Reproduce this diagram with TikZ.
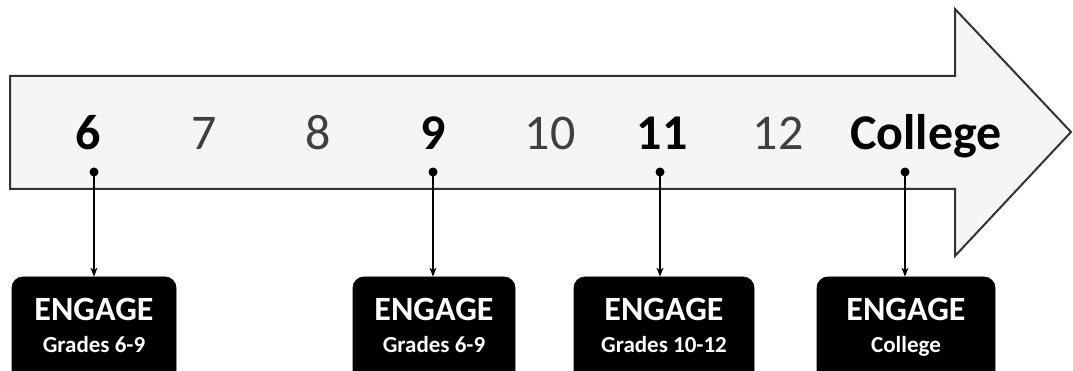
\documentclass[tikz,border=0pt]{standalone}
\usepackage{fontspec}
\setmainfont{Carlito}
\usetikzlibrary{arrows.meta}
\tikzset{
  bignum/.style={anchor=base, font=\fontsize{50}{50}\selectfont\bfseries, text=black, inner sep=0pt},
  lightnum/.style={anchor=base, font=\fontsize{50}{50}\selectfont, text=black!75, inner sep=0pt},
  dotmark/.style={circle, fill=black, inner sep=0pt, minimum size=9pt},
  engbox/.style={draw=black, fill=black, rounded corners=11pt, inner sep=0pt, line width=0.8pt},
  engtitle/.style={anchor=base, font=\fontsize{34}{34}\selectfont\bfseries, text=white, inner sep=0pt},
  engsub/.style={anchor=base, font=\fontsize{23}{23}\selectfont\bfseries, text=white, inner sep=0pt},
  link/.style={draw=black, line width=1.1pt, -{Stealth[length=9pt,width=7pt]}},
  bigarrow/.style={draw=black!80, line width=2pt, fill=black!4, line join=miter}
}
\begin{document}
\begin{tikzpicture}[x=1pt,y=-1pt]
\useasboundingbox (0,0) rectangle (1073,371);
\clip (0,0) rectangle (1073,371);
\fill[white] (0,0) rectangle (1073,371);
% big arrow
\draw[bigarrow] (10,76) -- (955,76) -- (955,9) -- (1071,132) -- (955,256) -- (955,189) -- (10,189) -- cycle;
% labels
\node[bignum]   (n6)  at (88,150)  {6};
\node[lightnum] (n7)  at (204,150) {7};
\node[lightnum] (n8)  at (318,150) {8};
\node[bignum]   (n9)  at (433,150) {9};
\node[lightnum] (n10) at (550,150) {10};
\node[bignum]   (n11) at (662,150) {11};
\node[lightnum] (n12) at (778,150) {12};
\node[bignum]   (ncol) at (926,150) {College};
% dots
\node[dotmark] (d6)  at (94,172)  {};
\node[dotmark] (d9)  at (433,172) {};
\node[dotmark] (d11) at (660,172) {};
\node[dotmark] (dcol) at (905,172) {};
% boxes
\node[engbox, minimum width=164pt, minimum height=110pt] (b6)  at (94,332)  {};
\node[engbox, minimum width=162pt, minimum height=110pt] (b9)  at (434,332) {};
\node[engbox, minimum width=180pt, minimum height=110pt] (b11) at (664,332) {};
\node[engbox, minimum width=178pt, minimum height=110pt] (bcol) at (906,332) {};
\node[engtitle] (t6)  at (94,320)  {ENGAGE};
\node[engsub]   (s6)  at (94,352)  {Grades 6-9};
\node[engtitle] (t9)  at (434,320) {ENGAGE};
\node[engsub]   (s9)  at (434,352) {Grades 6-9};
\node[engtitle] (t11) at (664,320) {ENGAGE};
\node[engsub]   (s11) at (664,352) {Grades 10-12};
\node[engtitle] (tcol) at (906,320) {ENGAGE};
\node[engsub]   (scol) at (906,352) {College};
% connectors
\draw[link] (d6.center) -- (d6.center |- b6.north);
\draw[link] (d9.center) -- (d9.center |- b9.north);
\draw[link] (d11.center) -- (d11.center |- b11.north);
\draw[link] (dcol.center) -- (dcol.center |- bcol.north);
\end{tikzpicture}
\end{document}
